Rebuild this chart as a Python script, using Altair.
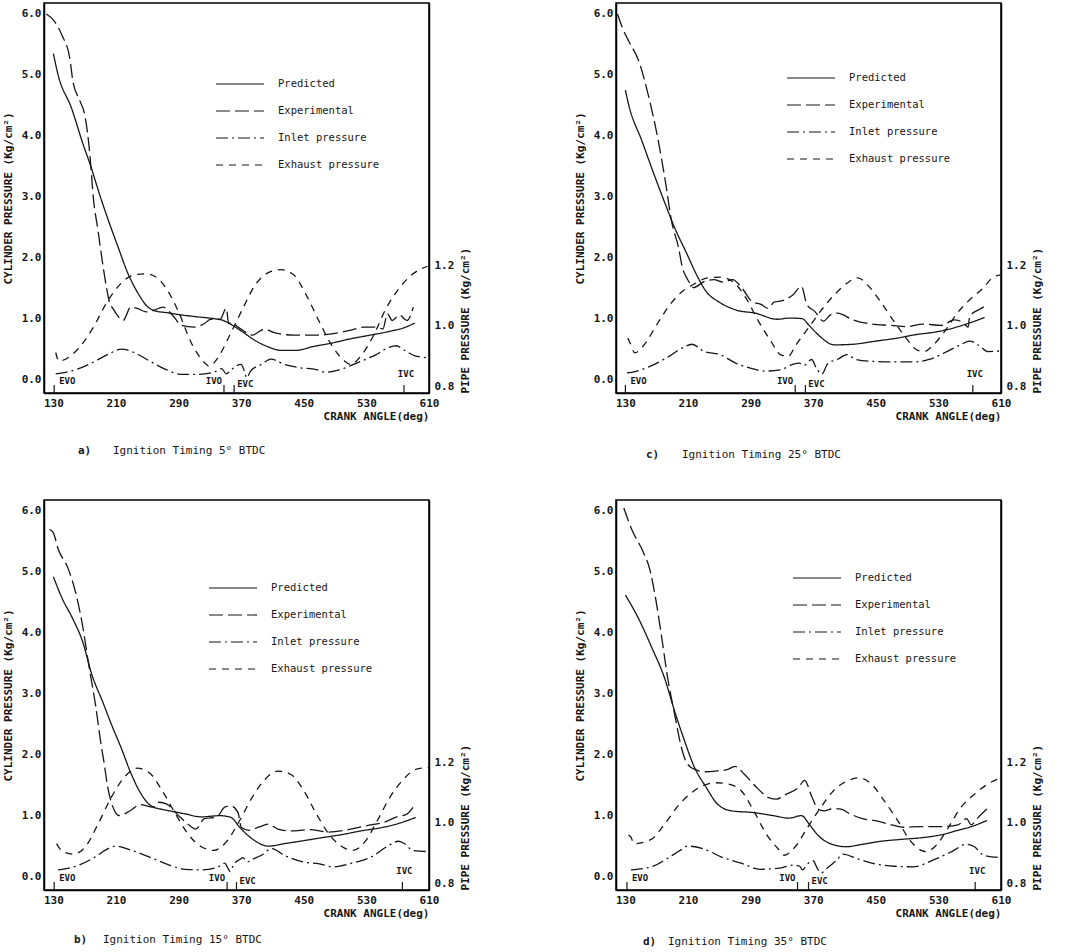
import altair as alt
import pandas as pd

FONT = "DejaVu Sans Mono"
INK = "#161616"

# ---- crank-angle ticks and axis ranges ----
X_TICKS = [130, 210, 290, 370, 450, 530, 610]
CYL_TICKS = [0, 1, 2, 3, 4, 5, 6]
PIPE_TICKS = [0.8, 1.0, 1.2]
X_DOM = [118, 610]
CYL_DOM = [-0.22, 6.18]
PIPE_DOM = [0.780, 2.060]

# ---- a) ignition timing 5 deg BTDC : (crank angle, pressure) ----
A_PRED = [(130, 5.35), (136, 5.0), (153, 4.46), (168, 3.86), (177, 3.53), (189, 3.04), (202, 2.55),
          (212, 2.2), (225, 1.75), (238, 1.42), (250, 1.2), (262, 1.12), (274, 1.1), (294, 1.06),
          (314, 1.03), (335, 1.0), (347, 0.97), (359, 0.89), (372, 0.78), (388, 0.64), (404, 0.54),
          (421, 0.48), (441, 0.48), (461, 0.54), (486, 0.6), (510, 0.67), (535, 0.73), (559, 0.79),
          (580, 0.86), (592, 0.93)]
A_EXP = [(121, 6.0), (130, 5.9), (141, 5.65), (151, 5.27), (155, 4.89), (164, 4.57), (170, 4.35),
         (177, 3.64), (181, 2.99), (187, 2.45), (193, 1.9), (198, 1.5), (202, 1.25), (206, 1.17),
         (212, 1.05), (219, 0.97), (229, 1.19), (237, 1.17), (249, 1.11), (259, 1.14), (270, 1.19),
         (282, 1.06), (294, 0.89), (310, 0.86), (323, 0.92), (331, 0.99), (343, 0.99), (351, 1.17),
         (354, 0.92), (359, 0.94), (363, 0.89), (372, 0.81), (384, 0.73), (400, 0.83), (412, 0.77),
         (437, 0.73), (466, 0.73), (486, 0.75), (510, 0.81), (527, 0.86), (543, 0.86), (551, 0.83),
         (557, 1.08), (563, 0.97), (572, 1.06), (582, 0.97), (590, 1.19)]
A_INLET = [(133, 0.843), (159, 0.857), (180, 0.880), (200, 0.907), (217, 0.924), (233, 0.913),
           (253, 0.885), (274, 0.857), (294, 0.841), (314, 0.841), (335, 0.848), (345, 0.860),
           (351, 0.843), (357, 0.855), (363, 0.868), (370, 0.874), (374, 0.852), (377, 0.830),
           (382, 0.852), (396, 0.874), (408, 0.891), (425, 0.874), (445, 0.863), (466, 0.857),
           (478, 0.848), (494, 0.855), (519, 0.880), (543, 0.907), (559, 0.930), (568, 0.935),
           (580, 0.918), (592, 0.902), (608, 0.896)]
A_EXH = [(133, 0.913), (137, 0.885), (159, 0.918), (180, 0.991), (200, 1.085), (217, 1.141),
         (233, 1.168), (249, 1.171), (263, 1.157), (274, 1.124), (290, 1.046), (306, 0.946),
         (323, 0.880), (329, 0.868), (339, 0.891), (355, 0.968), (372, 1.057), (388, 1.135),
         (404, 1.174), (421, 1.185), (437, 1.168), (453, 1.102), (470, 1.013), (486, 0.935),
         (502, 0.885), (510, 0.874), (523, 0.902), (539, 0.968), (555, 1.057), (572, 1.124),
         (588, 1.168), (608, 1.196)]
A_EVENTS = [("EVO", 131), ("IVO", 348), ("EVC", 361), ("IVC", 578)]

# ---- b) ignition timing 15 deg BTDC ----
B_PRED = [(130, 4.92), (141, 4.57), (154, 4.25), (167, 3.87), (180, 3.28), (192, 2.9), (205, 2.47),
          (217, 2.1), (228, 1.73), (241, 1.38), (255, 1.16), (270, 1.1), (278, 1.08), (298, 1.03),
          (319, 0.98), (343, 1.0), (357, 0.97), (368, 0.81), (384, 0.62), (405, 0.5), (425, 0.54),
          (450, 0.59), (474, 0.64), (499, 0.69), (523, 0.75), (552, 0.81), (573, 0.88), (593, 0.97)]
B_EXP = [(125, 5.7), (130, 5.64), (136, 5.38), (149, 5.05), (158, 4.68), (167, 4.14), (175, 3.49),
         (184, 2.8), (191, 2.16), (195, 1.85), (199, 1.5), (204, 1.22), (209, 1.06), (214, 1.0),
         (228, 1.08), (241, 1.18), (257, 1.14), (265, 1.22), (275, 1.19), (290, 1.0), (302, 0.86),
         (312, 0.78), (323, 0.95), (339, 0.98), (349, 1.14), (357, 1.16), (366, 1.05), (370, 0.81),
         (380, 0.76), (392, 0.81), (405, 0.86), (417, 0.78), (433, 0.75), (458, 0.77), (482, 0.73),
         (507, 0.77), (532, 0.84), (552, 0.89), (569, 0.98), (581, 1.02), (593, 1.2)]
B_INLET = [(136, 0.846), (163, 0.862), (183, 0.888), (200, 0.916), (210, 0.924), (228, 0.912),
           (253, 0.888), (278, 0.862), (298, 0.848), (319, 0.846), (339, 0.854), (349, 0.868),
           (353, 0.852), (356, 0.840), (360, 0.862), (368, 0.880), (372, 0.886), (378, 0.872),
           (384, 0.880), (396, 0.894), (409, 0.916), (425, 0.894), (450, 0.872), (470, 0.866),
           (487, 0.856), (511, 0.868), (536, 0.888), (556, 0.922), (571, 0.940), (579, 0.932),
           (589, 0.910), (610, 0.906)]
B_EXH = [(134, 0.932), (142, 0.906), (155, 0.898), (171, 0.922), (187, 0.996), (204, 1.084),
         (220, 1.148), (237, 1.180), (253, 1.164), (269, 1.106), (286, 1.030), (302, 0.964),
         (319, 0.922), (335, 0.910), (351, 0.938), (368, 1.008), (384, 1.084), (400, 1.142),
         (417, 1.170), (433, 1.160), (450, 1.106), (466, 1.030), (482, 0.964), (499, 0.922),
         (513, 0.910), (528, 0.938), (544, 1.008), (560, 1.084), (577, 1.142), (593, 1.176),
         (610, 1.182)]
B_EVENTS = [("EVO", 131), ("IVO", 352), ("EVC", 364), ("IVC", 576)]

# ---- c) ignition timing 25 deg BTDC ----
C_PRED = [(130, 4.75), (134, 4.52), (151, 3.92), (168, 3.32), (181, 2.88), (193, 2.49), (208, 2.08),
          (221, 1.72), (233, 1.45), (250, 1.27), (272, 1.14), (296, 1.09), (324, 0.99), (340, 1.01),
          (356, 1.0), (364, 0.9), (376, 0.74), (397, 0.57), (421, 0.58), (449, 0.63), (477, 0.68),
          (502, 0.74), (526, 0.78), (550, 0.85), (570, 0.93), (589, 1.02)]
C_EXP = [(120, 6.0), (126, 5.78), (134, 5.56), (147, 5.23), (160, 4.63), (172, 3.92), (181, 3.26),
         (189, 2.6), (198, 2.16), (203, 1.83), (208, 1.68), (211, 1.61), (217, 1.51), (231, 1.61),
         (243, 1.64), (255, 1.6), (267, 1.64), (279, 1.5), (292, 1.28), (304, 1.23), (312, 1.17),
         (320, 1.27), (332, 1.3), (344, 1.39), (355, 1.53), (362, 1.23), (372, 1.12), (383, 0.96),
         (393, 1.07), (401, 1.09), (421, 0.98), (445, 0.91), (469, 0.89), (490, 0.87), (510, 0.91),
         (534, 0.89), (550, 0.98), (562, 0.93), (568, 0.86), (570, 1.04), (582, 1.15), (589, 1.2)]
C_INLET = [(132, 0.846), (138, 0.848), (162, 0.868), (183, 0.896), (203, 0.928), (215, 0.940),
           (231, 0.916), (251, 0.906), (271, 0.878), (292, 0.860), (308, 0.852), (328, 0.856),
           (344, 0.874), (352, 0.878), (358, 0.870), (368, 0.890), (374, 0.862), (381, 0.842),
           (389, 0.878), (401, 0.890), (413, 0.906), (425, 0.890), (445, 0.884), (469, 0.882),
           (498, 0.882), (518, 0.890), (538, 0.912), (558, 0.938), (570, 0.950), (583, 0.934),
           (593, 0.916), (608, 0.918)]
C_EXH = [(133, 0.960), (136, 0.944), (142, 0.912), (154, 0.938), (170, 1.004), (187, 1.070),
         (203, 1.114), (217, 1.136), (235, 1.158), (251, 1.160), (267, 1.146), (284, 1.092),
         (300, 1.016), (316, 0.950), (328, 0.906), (338, 0.900), (348, 0.938), (364, 0.994),
         (381, 1.054), (397, 1.102), (413, 1.140), (427, 1.158), (441, 1.130), (457, 1.076),
         (473, 1.016), (490, 0.956), (502, 0.922), (512, 0.916), (522, 0.934), (538, 0.982),
         (554, 1.042), (570, 1.086), (587, 1.124), (599, 1.158), (610, 1.168)]
C_EVENTS = [("EVO", 130), ("IVO", 347), ("EVC", 360), ("IVC", 574)]

# ---- d) ignition timing 35 deg BTDC ----
D_PRED = [(130, 4.62), (147, 4.23), (164, 3.75), (180, 3.26), (193, 2.71), (205, 2.25), (218, 1.8),
          (233, 1.47), (247, 1.2), (265, 1.08), (294, 1.05), (319, 1.0), (339, 0.96), (355, 1.0),
          (366, 0.84), (376, 0.68), (392, 0.54), (412, 0.49), (433, 0.53), (457, 0.58), (482, 0.61),
          (510, 0.64), (535, 0.69), (555, 0.76), (572, 0.82), (592, 0.92)]
D_EXP = [(128, 6.05), (138, 5.7), (153, 5.32), (161, 5.05), (168, 4.61), (176, 3.96), (184, 3.26),
         (193, 2.66), (201, 2.15), (207, 1.9), (213, 1.8), (219, 1.76), (229, 1.72), (245, 1.73),
         (261, 1.76), (270, 1.81), (282, 1.68), (298, 1.46), (314, 1.29), (323, 1.27), (335, 1.35),
         (351, 1.46), (359, 1.58), (368, 1.32), (376, 1.11), (384, 1.08), (394, 1.11), (404, 1.11),
         (417, 1.03), (433, 0.95), (449, 0.92), (470, 0.85), (486, 0.81), (506, 0.82), (531, 0.82),
         (555, 0.85), (566, 0.95), (572, 0.85), (580, 0.96), (592, 1.11)]
D_INLET = [(137, 0.846), (163, 0.856), (184, 0.884), (200, 0.910), (210, 0.924), (229, 0.916),
           (253, 0.888), (278, 0.868), (302, 0.848), (327, 0.852), (345, 0.862), (353, 0.858),
           (356, 0.846), (363, 0.866), (370, 0.876), (375, 0.852), (380, 0.836), (388, 0.852),
           (400, 0.878), (408, 0.898), (425, 0.884), (449, 0.866), (474, 0.858), (498, 0.856),
           (523, 0.878), (547, 0.906), (566, 0.930), (576, 0.922), (588, 0.894), (610, 0.886)]
D_EXH = [(134, 0.960), (137, 0.954), (141, 0.932), (163, 0.946), (180, 0.996), (196, 1.052),
         (212, 1.094), (229, 1.122), (245, 1.132), (261, 1.128), (278, 1.106), (294, 1.040),
         (310, 0.964), (327, 0.910), (333, 0.894), (347, 0.922), (363, 0.986), (380, 1.052),
         (396, 1.106), (412, 1.136), (429, 1.148), (445, 1.126), (461, 1.072), (478, 1.008),
         (494, 0.942), (508, 0.910), (514, 0.906), (527, 0.926), (543, 0.986), (559, 1.052),
         (576, 1.094), (592, 1.126), (610, 1.148)]
D_EVENTS = [("EVO", 132), ("IVO", 350), ("EVC", 364), ("IVC", 577)]

SERIES = ["Predicted", "Experimental", "Inlet pressure", "Exhaust pressure"]
DASH = {
    "Predicted": [1, 0],
    "Experimental": [14, 5],
    "Inlet pressure": [12, 4, 2, 4],
    "Exhaust pressure": [7, 6],
}
# valve-event label placement: (align, dx, y in cylinder-pressure units)
EVENT_LABEL = {
    "EVO": ("left", 5, -0.03),
    "IVO": ("right", -2, -0.03),
    "EVC": ("left", 3, -0.08),
    "IVC": ("center", 2, 0.09),
}

W, H = 385, 390


def frame(points):
    return pd.DataFrame(points, columns=["angle", "value"])


def panel(tag, caption, pred, exp, inlet, exh, events, legend_at, caption_at):
    x = alt.X("angle:Q", scale=alt.Scale(domain=X_DOM, nice=False, zero=False),
              axis=alt.Axis(values=X_TICKS, title="CRANK ANGLE(deg)", titleAnchor="end",
                            labelPadding=4, titlePadding=2, labelFlush=False))
    y_cyl = alt.Y("value:Q", scale=alt.Scale(domain=CYL_DOM, nice=False, zero=False),
                  axis=alt.Axis(values=CYL_TICKS, format=".1f", title="CYLINDER PRESSURE (Kg/cm²)",
                                labelPadding=3, titlePadding=8))
    y_pipe = alt.Y("value:Q", scale=alt.Scale(domain=PIPE_DOM, nice=False, zero=False),
                   axis=alt.Axis(orient="right", values=PIPE_TICKS, format=".1f",
                                 title="PIPE PRESSURE (Kg/cm²)", titleAngle=270,
                                 titleAnchor="start", titleAlign="left", titleBaseline="top",
                                 labelPadding=5, titlePadding=6))

    def curve(points, name, y):
        return alt.Chart(frame(points)).mark_line(
            color=INK, strokeWidth=1.3, strokeDash=DASH[name], interpolate="monotone"
        ).encode(x=x, y=y)

    cyl_layers = [curve(pred, "Predicted", y_cyl), curve(exp, "Experimental", y_cyl)]

    # valve timing markers along the bottom edge
    for name, angle in events:
        ev = pd.DataFrame({"angle": [angle], "label": [name]})
        cyl_layers.append(
            alt.Chart(ev).mark_rule(color=INK, strokeWidth=1.2).encode(
                x=x, y=alt.datum(CYL_DOM[0]), y2=alt.datum(-0.09)))
        align, dx, yv = EVENT_LABEL[name]
        cyl_layers.append(
            alt.Chart(ev).mark_text(align=align, dx=dx, baseline="middle", font=FONT,
                                    fontSize=9, fontWeight="bold", color=INK).encode(
                x=x, y=alt.datum(yv), text="label:N"))

    # line-style key inside the plot
    lx, ly = legend_at
    for i, name in enumerate(SERIES):
        row = pd.DataFrame({"label": [name]})
        cyl_layers.append(
            alt.Chart(row).mark_rule(color=INK, strokeWidth=1.2, strokeDash=DASH[name]).encode(
                x=alt.value(lx), x2=alt.value(lx + 48), y=alt.value(ly + 27 * i)))
        cyl_layers.append(
            alt.Chart(row).mark_text(align="left", baseline="middle", font=FONT, fontSize=10.5,
                                     color=INK).encode(
                x=alt.value(lx + 62), y=alt.value(ly + 27 * i), text="label:N"))

    # panel caption below the axis
    cx, tx, cy = caption_at
    cap = pd.DataFrame({"tag": [tag], "caption": [caption]})
    cyl_layers.append(
        alt.Chart(cap).mark_text(align="left", baseline="middle", font=FONT, fontSize=11,
                                 fontWeight="bold", color=INK).encode(
            x=alt.value(cx), y=alt.value(H + cy), text="tag:N"))
    cyl_layers.append(
        alt.Chart(cap).mark_text(align="left", baseline="middle", font=FONT, fontSize=11,
                                 color=INK).encode(
            x=alt.value(tx), y=alt.value(H + cy), text="caption:N"))

    pipe_layers = [curve(inlet, "Inlet pressure", y_pipe), curve(exh, "Exhaust pressure", y_pipe)]

    return alt.layer(alt.layer(*cyl_layers), alt.layer(*pipe_layers)).resolve_scale(
        y="independent").properties(width=W, height=H)


pa = panel("a)", "Ignition Timing 5° BTDC", A_PRED, A_EXP, A_INLET, A_EXH, A_EVENTS,
           (172, 81), (34, 69, 58))
pc = panel("c)", "Ignition Timing 25° BTDC", C_PRED, C_EXP, C_INLET, C_EXH, C_EVENTS,
           (171, 75), (30, 66, 62))
pb = panel("b)", "Ignition Timing 15° BTDC", B_PRED, B_EXP, B_INLET, B_EXH, B_EVENTS,
           (165, 88), (30, 59, 50))
pd_ = panel("d)", "Ignition Timing 35° BTDC", D_PRED, D_EXP, D_INLET, D_EXH, D_EVENTS,
            (177, 78), (27, 52, 52))

chart = alt.vconcat(
    alt.hconcat(pa, pc, spacing=101),
    alt.hconcat(pb, pd_, spacing=101),
    spacing=38,
).properties(
    padding={"left": 1, "top": 2, "right": 5, "bottom": 5},
    background="white",
).configure_view(
    stroke="black", strokeWidth=1.5
).configure_axis(
    labelFont=FONT, labelFontSize=11, labelFontWeight="bold", labelColor=INK,
    titleFont=FONT, titleFontSize=11, titleFontWeight="bold", titleColor=INK,
    domainColor="black", domainWidth=1.5, grid=False, ticks=False,
)

chart.save("out.html", embed_options={"renderer": "svg", "actions": False})
